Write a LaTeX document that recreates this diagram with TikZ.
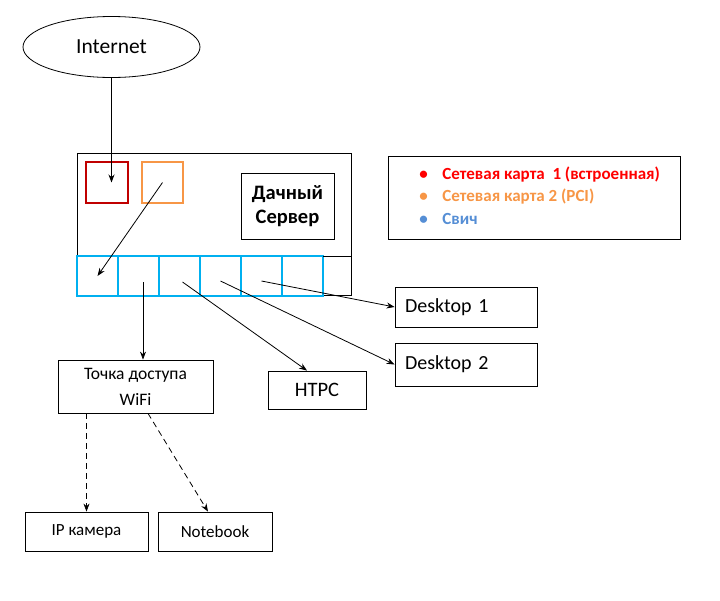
\documentclass[tikz,border=0pt]{standalone}
\usepackage{fontspec}
\setmainfont{Carlito}
\usetikzlibrary{arrows.meta,shapes,positioning}
\definecolor{nicred}{RGB}{192,0,0}
\definecolor{nicorange}{RGB}{247,150,70}
\definecolor{swblue}{RGB}{0,176,240}
\definecolor{legred}{RGB}{255,0,0}
\definecolor{legblue}{RGB}{85,142,213}

\begin{document}
\begin{tikzpicture}[x=1pt,y=-1pt,>={Stealth[length=8pt,width=6pt]},line width=0.8pt,align=center,
					box/.style={draw,rectangle,inner sep=0pt,font=\fontsize{20}{22}\selectfont},
					small box/.style={box,font=\fontsize{17.5}{26}\selectfont},
					port/.style={draw,rectangle,inner sep=0pt,outer sep=0pt,minimum width=41pt,minimum height=40pt,line width=2pt},
					legend item/.style={anchor=west,inner sep=0pt,align=left,font=\fontsize{17}{19}\selectfont\bfseries}]
					
					\useasboundingbox (0,0) rectangle (720,600);
					
					\node[draw,ellipse,minimum width=177pt,minimum height=61pt,inner sep=0pt,
					      font=\fontsize{21.5}{24}\selectfont] (inet) at (111.5,47) {Internet};
					\node[box,minimum width=274pt,minimum height=142pt] (server) at (214,224) {};
					\node[port,draw=nicred,minimum width=42pt,minimum height=41pt] (nic1) at (107,182.5) {};
					\node[port,draw=nicorange,minimum width=41pt,minimum height=41pt] (nic2) at (162.5,182.5) {};
					\node[box,minimum width=93pt,minimum height=66pt,font=\fontsize{20.5}{24}\selectfont\bfseries] (name) at (287.5,206) {Дачный\\Сервер};
					
					\node[port,draw=swblue] (s1) at (97.5,276) {};
					\node[port,draw=swblue,right=0pt of s1] (s2) {};
					\node[port,draw=swblue,right=0pt of s2] (s3) {};
					\node[port,draw=swblue,right=0pt of s3] (s4) {};
					\node[port,draw=swblue,right=0pt of s4] (s5) {};
					\node[port,draw=swblue,right=0pt of s5] (s6) {};
					\draw (s6.north east) -- (server.east |- s6.north);
					
					\node[draw,rectangle,minimum width=292pt,minimum height=83pt,inner sep=0pt] (legend) at (534,197.5) {};
					\node[legend item,text=legred] (l1) at (419,175) {\makebox[23pt][l]{\textbullet}Сетевая карта~ 1 (встроенная)};
					\node[legend item,text=nicorange] (l2) at (419,197) {\makebox[23pt][l]{\textbullet}Сетевая карта 2 (PCI)};
					\node[legend item,text=legblue] (l3) at (419,218.5) {\makebox[23pt][l]{\textbullet}Свич};
					
					\node[box,minimum width=142pt,minimum height=40pt,text width=122pt,align=left] (desk1) at (466,307) {Desktop 1};
					\node[box,minimum width=142pt,minimum height=43pt,text width=122pt,align=left] (desk2) at (466,364.5) {Desktop 2};
					\node[box,minimum width=98pt,minimum height=38pt,font=\fontsize{20.5}{22}\selectfont] (htpc) at (317,390) {HTPC};
					\node[small box,minimum width=155pt,minimum height=53pt] (ap) at (135.5,386.5) {Точка доступа\\WiFi};
					\node[small box,font=\fontsize{17}{20}\selectfont,minimum width=123pt,minimum height=39pt] (ipcam) at (86.5,531.5) {IP камера};
					\node[small box,font=\fontsize{17}{20}\selectfont,minimum width=114pt,minimum height=39pt] (note) at (215,531.5) {Notebook};
					
					\draw[->] (inet.south) -- (inet.south |- nic1.center);
					\draw[->] (nic2.center) -- (s1.center);
					\draw[->] ([xshift=4.5pt,yshift=-6pt]s2.center) -- ([xshift=4.5pt]s2.center |- ap.north);
					\draw[->] ([xshift=3pt,yshift=-6pt]s3.center) -- ([xshift=-10pt]htpc.north);
					\draw[->] ([yshift=-5pt]s4.center) -- (desk2.west);
					\draw[->] ([yshift=-5pt]s5.center) -- (desk1.west);
					\draw[->,dash pattern=on 6pt off 4pt] (ap.south -| ipcam.north) -- (ipcam.north);
					\draw[->,dash pattern=on 6pt off 4pt] ([xshift=12.5pt]ap.south) -- ([xshift=-7pt]note.north);
					
\end{tikzpicture}
\end{document}
